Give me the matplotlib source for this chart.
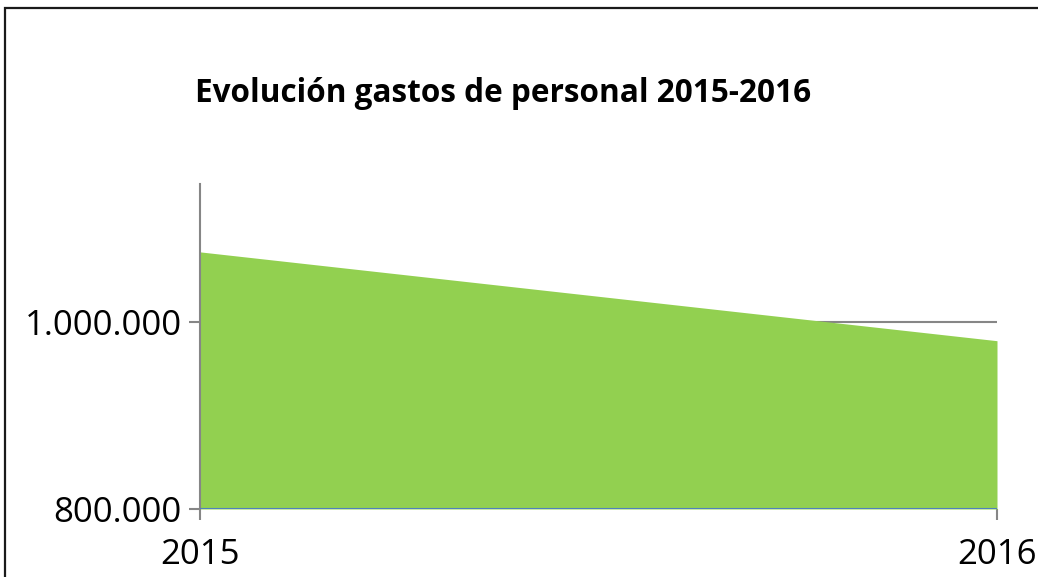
import matplotlib

matplotlib.use("Agg")
import matplotlib.pyplot as plt
from matplotlib.patches import Rectangle
from matplotlib.ticker import FuncFormatter

years = ["2015", "2016"]
gastos = [1075000, 980000]
y_ticks = [800000, 1000000]

W, H = 1038, 577
fig = plt.figure(figsize=(W / 100, H / 100), dpi=100)
fig.patches.append(Rectangle((5 / W, -0.1), 1.2, 1 - 8 / H + 0.1, transform=fig.transFigure,
                             fill=False, edgecolor="#1a1a1a", linewidth=1.6))

ax = fig.add_axes([200 / W, 68 / H, 797 / W, (509 - 184) / H])
x = list(range(len(years)))
ax.fill_between(x, 800000, gastos, color="#92D050", linewidth=0, zorder=2)
ax.plot(x, [800000] * len(x), color="#4F81BD", linewidth=1.5, zorder=3)

ax.set_xlim(0, 1)
ax.set_ylim(800000, 1147600)
ax.set_yticks(y_ticks)
ax.yaxis.set_major_formatter(FuncFormatter(lambda v, _: f"{v:,.0f}".replace(",", ".")))
ax.set_xticks(x)
ax.set_xticklabels(years)
for v in y_ticks[1:]:
    ax.axhline(v, color="#868686", linewidth=1.5, zorder=1)

for s in ["top", "right", "bottom"]:
    ax.spines[s].set_visible(False)
ax.spines["left"].set_color("#868686")
ax.spines["left"].set_linewidth(1.5)
ax.tick_params(axis="y", colors="#868686", length=8, width=1.5, labelcolor="black",
               labelsize=25, pad=5)
ax.tick_params(axis="x", colors="#868686", length=8, width=1.5, labelcolor="black",
               labelsize=25, pad=13)
for lab in ax.get_yticklabels() + ax.get_xticklabels():
    lab.set_fontfamily("Open Sans")

fig.text(195 / W, 1 - 93 / H, "Evolución gastos de personal 2015-2016", fontsize=22.7,
         fontweight="bold", family="Open Sans", va="center", ha="left")

fig.savefig("out.png", dpi=100)
